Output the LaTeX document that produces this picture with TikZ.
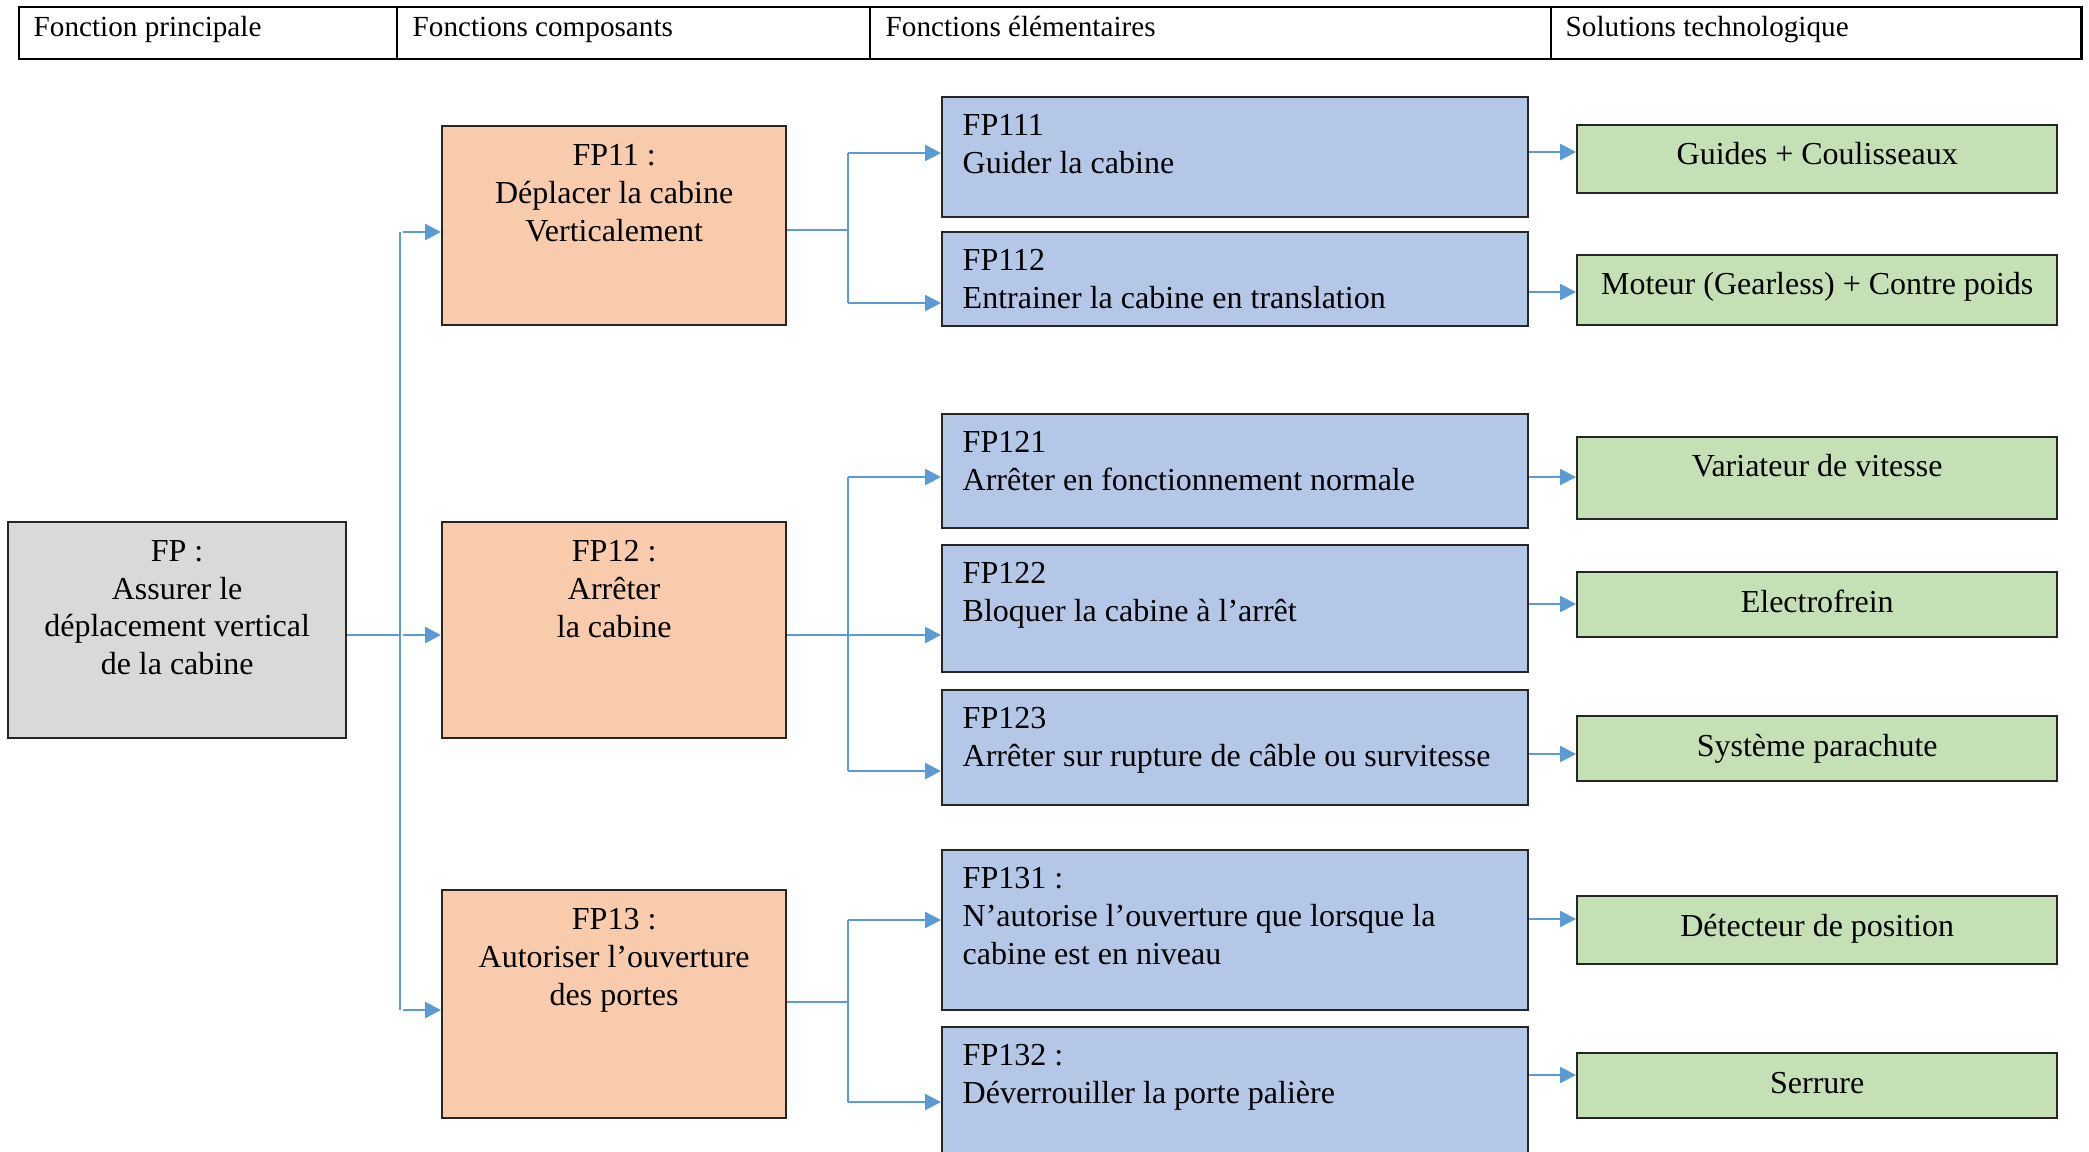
\documentclass[tikz,border=0pt]{standalone}
\usepackage{fontspec}
\setmainfont{Liberation Serif}
\usepackage{tikz}
\usetikzlibrary{arrows.meta,calc,positioning}
\definecolor{boxgray}{HTML}{D9D9D9}
\definecolor{boxorange}{HTML}{F8CBAD}
\definecolor{boxblue}{HTML}{B4C7E7}
\definecolor{boxgreen}{HTML}{C5E0B4}
\definecolor{linkblue}{HTML}{5B9BD5}

\begin{document}
\begin{tikzpicture}[x=0.01cm,y=-0.01cm,
  box/.style={draw=black!85,line width=0.6pt,rectangle,inner sep=0pt,anchor=north west},
  txt/.style={inner sep=0pt,font=\fontsize{9.1}{10.7}\selectfont,
    execute at begin node={\rule{0pt}{8pt}}},
  head/.style={inner sep=0pt,anchor=base west,font=\fontsize{8.3}{10}\selectfont},
  trunk/.style={draw=linkblue,line width=0.4pt},
  flow/.style={draw=linkblue,line width=0.7pt,-{Triangle[length=4.5pt,width=4.5pt]}}]
\clip (0,0) rectangle (2089,1151);
\fill[white] (0,0) rectangle (2089,1151);

% en-tete
\draw[line width=0.45pt] (397,7) -- (397,59) (870,7) -- (870,59) (1551,7) -- (1551,59);
\draw[line width=0.85pt] (19,7) rectangle (2081,59);
\node[head] (h1) at (33,36) {Fonction principale};
\node[head] (h2) at (412,36) {Fonctions composants};
\node[head] (h3) at (885,36) {Fonctions élémentaires};
\node[head] (h4) at (1565,36) {Solutions technologique};

% fonction principale
\node[box,fill=boxgray,minimum width=3.38cm,minimum height=2.16cm] (fp) at (7,521) {};
\node[txt,align=center,anchor=north] (fpt) at ($(fp.north)+(0,19)$) {FP :\\Assurer le\\déplacement vertical\\de la cabine};

% fonctions composants
\node[box,fill=boxorange,minimum width=3.44cm,minimum height=1.99cm] (fp11) at (441,125) {};
\node[box,fill=boxorange,minimum width=3.44cm,minimum height=2.16cm] (fp12) at (441,521) {};
\node[box,fill=boxorange,minimum width=3.44cm,minimum height=2.28cm] (fp13) at (441,889) {};
\node[txt,align=center,anchor=north] (fp11t) at ($(fp11.north)+(0,19)$) {FP11 :\\Déplacer la cabine\\Verticalement};
\node[txt,align=center,anchor=north] (fp12t) at ($(fp12.north)+(0,19)$) {FP12 :\\Arrêter\\la cabine};
\node[txt,align=center,anchor=north] (fp13t) at ($(fp13.north)+(0,19)$) {FP13 :\\Autoriser l’ouverture\\des portes};

% fonctions elementaires
\node[box,fill=boxblue,minimum width=5.86cm,minimum height=1.20cm] (fp111) at (941,96) {};
\node[box,fill=boxblue,minimum width=5.86cm,minimum height=0.94cm] (fp112) at (941,231) {};
\node[box,fill=boxblue,minimum width=5.86cm,minimum height=1.14cm] (fp121) at (941,413) {};
\node[box,fill=boxblue,minimum width=5.86cm,minimum height=1.27cm] (fp122) at (941,544) {};
\node[box,fill=boxblue,minimum width=5.86cm,minimum height=1.15cm] (fp123) at (941,689) {};
\node[box,fill=boxblue,minimum width=5.86cm,minimum height=1.60cm] (fp131) at (941,849) {};
\node[box,fill=boxblue,minimum width=5.86cm,minimum height=1.60cm] (fp132) at (941,1026) {};
\node[txt,align=left,anchor=north west] (fp111t) at ($(fp111.north west)+(21,18)$) {FP111\\Guider la cabine};
\node[txt,align=left,anchor=north west] (fp112t) at ($(fp112.north west)+(21,18)$) {FP112\\Entrainer la cabine en translation};
\node[txt,align=left,anchor=north west] (fp121t) at ($(fp121.north west)+(21,18)$) {FP121\\Arrêter en fonctionnement normale};
\node[txt,align=left,anchor=north west] (fp122t) at ($(fp122.north west)+(21,18)$) {FP122\\Bloquer la cabine à l’arrêt};
\node[txt,align=left,anchor=north west] (fp123t) at ($(fp123.north west)+(21,18)$) {FP123\\Arrêter sur rupture de câble ou survitesse};
\node[txt,align=left,anchor=north west] (fp131t) at ($(fp131.north west)+(21,18)$) {FP131 :\\N’autorise l’ouverture que lorsque la\\cabine est en niveau};
\node[txt,align=left,anchor=north west] (fp132t) at ($(fp132.north west)+(21,18)$) {FP132 :\\Déverrouiller la porte palière};

% solutions technologiques
\node[box,fill=boxgreen,minimum width=4.80cm,minimum height=0.68cm] (guides) at (1576,124) {};
\node[box,fill=boxgreen,minimum width=4.80cm,minimum height=0.70cm] (moteur) at (1576,254) {};
\node[box,fill=boxgreen,minimum width=4.80cm,minimum height=0.82cm] (variateur) at (1576,436) {};
\node[box,fill=boxgreen,minimum width=4.80cm,minimum height=0.65cm] (frein) at (1576,571) {};
\node[box,fill=boxgreen,minimum width=4.80cm,minimum height=0.65cm] (parachute) at (1576,715) {};
\node[box,fill=boxgreen,minimum width=4.80cm,minimum height=0.68cm] (detecteur) at (1576,895) {};
\node[box,fill=boxgreen,minimum width=4.80cm,minimum height=0.65cm] (serrure) at (1576,1052) {};
\node[txt,anchor=base] (guidest) at ($(guides.north)+(0,40)$) {Guides + Coulisseaux};
\node[txt,anchor=base] (moteurt) at ($(moteur.north)+(0,40)$) {Moteur (Gearless) + Contre poids};
\node[txt,anchor=base] (variateurt) at ($(variateur.north)+(0,40)$) {Variateur de vitesse};
\node[txt,anchor=base] (freint) at ($(frein.north)+(0,41)$) {Electrofrein};
\node[txt,anchor=base] (parachutet) at ($(parachute.north)+(0,41)$) {Système parachute};
\node[txt,anchor=base] (detecteurt) at ($(detecteur.north)+(0,41)$) {Détecteur de position};
\node[txt,anchor=base] (serruret) at ($(serrure.north)+(0,41)$) {Serrure};

% liaisons FP -> FP1x
\coordinate (j0) at (400,635);
\coordinate (j1a) at (400,232);
\coordinate (j1c) at (400,1010);
\draw[trunk] (fp.east |- j0) -- (j0);
\draw[trunk] (j1a) -- (j1c);
\draw[flow] (j1a) ++(3,0) -- (j1a -| fp11.west);
\draw[flow] (j0) ++(3,0) -- (j0 -| fp12.west);
\draw[flow] (j1c) ++(3,0) -- (j1c -| fp13.west);

% liaisons FP11
\coordinate (j11) at (848,230);
\coordinate (j11a) at (848,153);
\coordinate (j11b) at (848,303);
\draw[trunk] (fp11.east |- j11) -- (j11);
\draw[trunk] (j11a) -- (j11b);
\draw[flow] (j11a) -- (j11a -| fp111.west);
\draw[flow] (j11b) -- (j11b -| fp112.west);

% liaisons FP12
\coordinate (j12) at (848,635);
\coordinate (j12a) at (848,477);
\coordinate (j12c) at (848,771);
\draw[trunk] (fp12.east |- j12) -- (j12);
\draw[trunk] (j12a) -- (j12c);
\draw[flow] (j12a) -- (j12a -| fp121.west);
\draw[flow] (j12) -- (j12 -| fp122.west);
\draw[flow] (j12c) -- (j12c -| fp123.west);

% liaisons FP13
\coordinate (j13) at (848,1002);
\coordinate (j13a) at (848,920);
\coordinate (j13b) at (848,1102);
\draw[trunk] (fp13.east |- j13) -- (j13);
\draw[trunk] (j13a) -- (j13b);
\draw[flow] (j13a) -- (j13a -| fp131.west);
\draw[flow] (j13b) -- (j13b -| fp132.west);

% liaisons vers les solutions
\draw[flow] (fp111.east |- 0,152) -- (guides.west |- 0,152);
\draw[flow] (fp112.east |- 0,292) -- (moteur.west |- 0,292);
\draw[flow] (fp121.east |- 0,477) -- (variateur.west |- 0,477);
\draw[flow] (fp122.east |- 0,604) -- (frein.west |- 0,604);
\draw[flow] (fp123.east |- 0,754) -- (parachute.west |- 0,754);
\draw[flow] (fp131.east |- 0,919) -- (detecteur.west |- 0,919);
\draw[flow] (fp132.east |- 0,1075) -- (serrure.west |- 0,1075);
\end{tikzpicture}
\end{document}
